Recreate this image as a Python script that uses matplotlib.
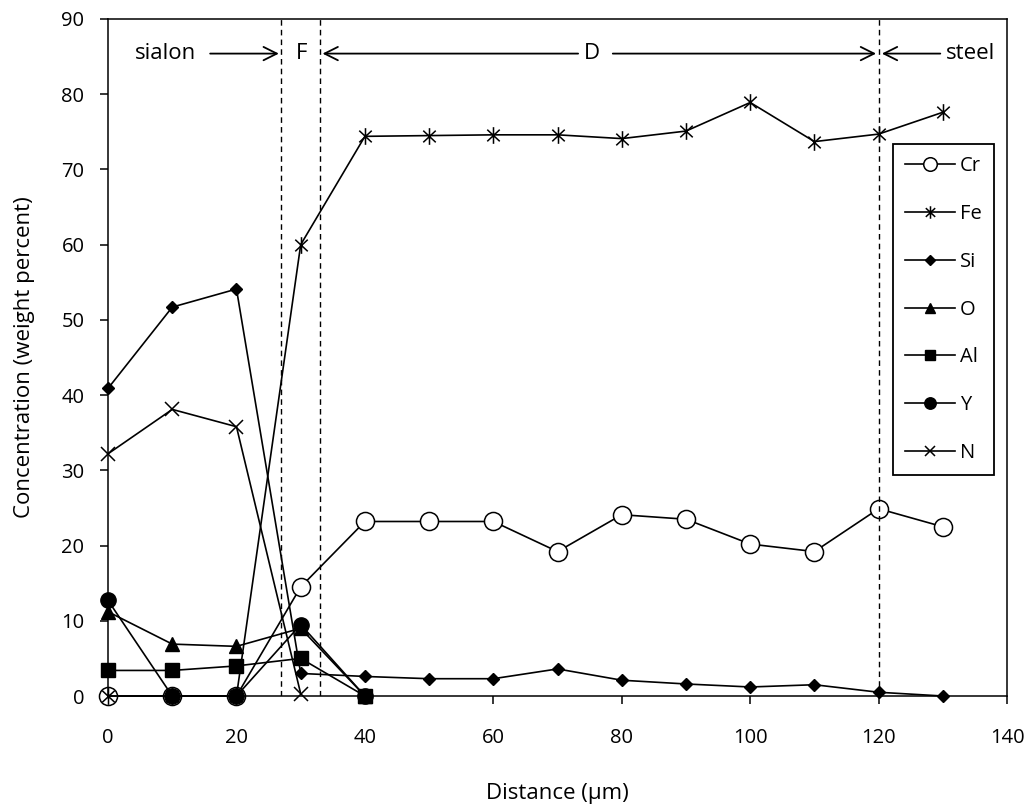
import numpy as np
import matplotlib
matplotlib.use('Agg')
from matplotlib import pyplot as plt
from matplotlib.path import Path

plt.rcParams['font.family'] = ['Open Sans', 'DejaVu Sans']

# profiles across the joint, distance in micrometres
dist = [0, 10, 20, 30, 40, 50, 60, 70, 80, 90, 100, 110, 120, 130]
cr = [0, 0, 0, 14.5, 23.2, 23.2, 23.2, 19.2, 24.1, 23.5, 20.2, 19.2, 24.9, 22.5]
fe = [0, 0, 0, 60.0, 74.4, 74.5, 74.6, 74.6, 74.1, 75.1, 78.9, 73.7, 74.7, 77.6]
si = [40.9, 51.7, 54.1, 3.0, 2.6, 2.3, 2.3, 3.6, 2.1, 1.6, 1.2, 1.5, 0.5, 0.0]

dist_short = [0, 10, 20, 30, 40]
o = [11.2, 6.9, 6.6, 9.0, 0]
al = [3.4, 3.4, 4.0, 5.0, 0]
y = [12.7, 0, 0, 9.5, 0]

dist_n = [0, 10, 20, 30]
n = [32.2, 38.1, 35.8, 0.3]

# zone boundaries
boundaries = [27, 33, 120]

# star marker: vertical stroke plus a cross
M, L = Path.MOVETO, Path.LINETO
star = Path([(0, -1), (0, 1), (-0.75, -0.7), (0.75, 0.7), (-0.75, 0.7), (0.75, -0.7)],
            [M, L, M, L, M, L])

fig = plt.figure(figsize=(10.29, 8.08), dpi=100)
ax = fig.add_axes([0.105, 0.1386, 0.8737, 0.8379])

lw = 1.2
kw = dict(color='black', lw=lw, mec='black', clip_on=False)
ax.plot(dist, cr, marker='o', ms=13, mfc='white', mew=1.1, label='Cr', **kw)
ax.plot(dist, fe, marker=star, ms=12, mew=1.1, label='Fe', **kw)
ax.plot(dist, si, marker='D', ms=6.5, mfc='black', label='Si', **kw)
ax.plot(dist_short, o, marker='^', ms=9.5, mfc='black', label='O', **kw)
ax.plot(dist_short, al, marker='s', ms=9.5, mfc='black', label='Al', **kw)
ax.plot(dist_short, y, marker='o', ms=11, mfc='black', label='Y', **kw)
ax.plot(dist_n, n, marker='x', ms=10, mew=1.1, label='N', **kw)

for b in boundaries:
    ax.axvline(b, color='black', lw=1.0, ls=(0, (4, 3)))

# zone labels with arrows
fs = 14.5
fs_big = 16
ya = 85.4
arrow = dict(arrowstyle='->', lw=1.3, color='black', mutation_scale=24, shrinkA=0, shrinkB=0)
ax.text(9.0, ya, 'sialon', ha='center', va='center', fontsize=fs_big)
ax.annotate('', xy=(26.6, ya), xytext=(15.9, ya), arrowprops=arrow)
ax.text(30.1, ya, 'F', ha='center', va='center', fontsize=fs_big)
ax.annotate('', xy=(33.4, ya), xytext=(73.2, ya), arrowprops=arrow)
ax.text(75.4, ya, 'D', ha='center', va='center', fontsize=fs_big)
ax.annotate('', xy=(119.6, ya), xytext=(78.6, ya), arrowprops=arrow)
ax.annotate('', xy=(120.5, ya), xytext=(129.6, ya), arrowprops=arrow)
ax.text(134.3, ya, 'steel', ha='center', va='center', fontsize=fs_big)

ax.set_xlim(0, 140)
ax.set_ylim(0, 90)
ax.set_xticks(np.arange(0, 141, 20))
ax.set_yticks(np.arange(0, 91, 10))
ax.tick_params(axis='both', direction='out', length=6, width=1.1, labelsize=fs, colors='black')
ax.tick_params(axis='y', pad=11)
ax.tick_params(axis='x', pad=17)
for s in ax.spines.values():
    s.set_linewidth(1.1)
    s.set_color('black')

ax.set_xlabel('Distance (µm)', fontsize=fs_big, labelpad=25)
ax.set_ylabel('Concentration (weight percent)', fontsize=fs_big, labelpad=19)

leg = ax.legend(loc='upper right', bbox_to_anchor=(0.9855, 0.815), fontsize=fs,
                frameon=True, fancybox=False, edgecolor='black', framealpha=1,
                labelspacing=1.38, handlelength=2.5, handletextpad=0.25,
                borderpad=0.6, borderaxespad=0, markerscale=0.75)
leg.get_frame().set_linewidth(1.3)

plt.savefig('out.png', dpi=100)
plt.close()
